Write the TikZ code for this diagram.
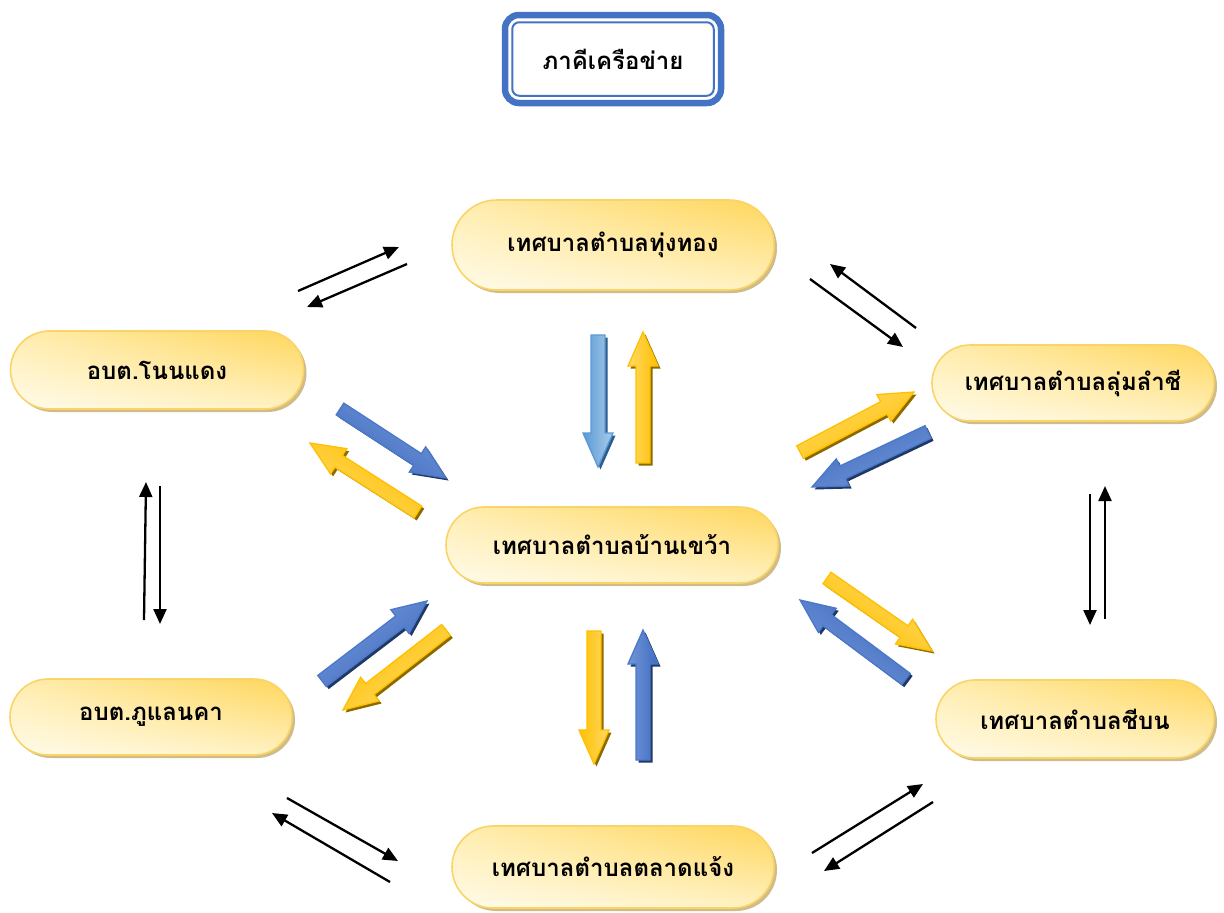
\documentclass[tikz,border=0pt]{standalone}
\usepackage{fontspec}
\newfontfamily\thai[Script=Thai]{Loma}
\usetikzlibrary{shapes.misc,shadows,shadings,calc,arrows.meta}
\definecolor{tblue}{HTML}{4472C4}
\definecolor{nbord}{HTML}{FAD466}
\definecolor{nshadow}{HTML}{D0BC88}
\definecolor{nUR}{HTML}{FFD65A}
\definecolor{nUL}{HTML}{FFEDB0}
\definecolor{nLL}{HTML}{FFFBEA}
\definecolor{nLR}{HTML}{FFF1C0}
\definecolor{bD}{HTML}{3F6CC0}
\definecolor{bL}{HTML}{7396D8}
\definecolor{bB}{HTML}{4A78CA}
\definecolor{bS}{HTML}{203864}
\definecolor{lbD}{HTML}{5B9BD5}
\definecolor{lbL}{HTML}{A9CBEA}
\definecolor{lbB}{HTML}{5B9BD5}
\definecolor{lbS}{HTML}{2E5C8A}
\definecolor{yD}{HTML}{FFC000}
\definecolor{yL}{HTML}{FFD966}
\definecolor{yB}{HTML}{FFC000}
\definecolor{yS}{HTML}{8C6A00}
\newcommand{\blkpath}[2]{($(#1)!7pt!90:(#2)$) -- ($(bh)!7pt!90:(#2)$) -- ($(bh)!15pt!90:(#2)$) -- (#2) -- ($(bh)!15pt!-90:(#2)$) -- ($(bh)!7pt!-90:(#2)$) -- ($(#1)!7pt!-90:(#2)$) -- cycle}
\newcommand{\blkarrow}[3]{%
  \pgfmathanglebetweenpoints{\pgfpointanchor{#1}{center}}{\pgfpointanchor{#2}{center}}%
  \let\blkang\pgfmathresult
  \coordinate (bh) at ($(#2)!34pt!(#1)$);
  \fill[#3S, transform canvas={shift={(2.5pt,-2.5pt)}}] \blkpath{#1}{#2};
  \path[draw=#3B, line width=1.3pt, line join=miter, top color=#3L, bottom color=#3D, shading angle=\blkang] \blkpath{#1}{#2};
}
\begin{document}
\begin{tikzpicture}[x=1pt,y=-1pt,
  org/.style={rounded rectangle, draw=nbord, line width=1.6pt,
    upper right=nUR, upper left=nUL, lower left=nLL, lower right=nLR,
    general shadow={shadow xshift=3pt, shadow yshift=-3pt, fill=nshadow},
    font=\thai\bfseries\fontsize{24}{28}\selectfont, inner sep=0pt},
  thinarr/.style={line width=2.3pt, -{Triangle[length=15pt,width=13pt]}},
  titlebox/.style={draw=tblue, line width=6.5pt, rounded corners=14pt, fill=white,
    minimum width=216pt, minimum height=88pt, inner sep=0pt,
    font=\thai\bfseries\fontsize{24}{28}\selectfont}
]
\useasboundingbox[fill=white] (0,0) rectangle (1224,913);

% title
\node[titlebox] (title) at (613,59) {ภาคีเครือข่าย};
\draw[tblue, line width=2pt, rounded corners=7pt]
  ($(title.north west)+(10.5,10.5)$) rectangle ($(title.south east)+(-10.5,-10.5)$);

% organisation nodes
\node[org, minimum width=322pt, minimum height=90pt] (tt) at (613,245) {เทศบาลตำบลทุ่งทอง};
\node[org, minimum width=293pt, minimum height=78pt] (nd) at (157,370) {อบต.โนนแดง};
\node[org, minimum width=282pt, minimum height=76pt] (ll) at (1073,383) {เทศบาลตำบลลุ่มลำชี};
\node[org, minimum width=332pt, minimum height=76pt] (bk) at (612,545) {เทศบาลตำบลบ้านเขว้า};
\node[org, minimum width=282pt, minimum height=76pt] (pl) at (151,717) {อบต.ภูแลนคา};
\node[org, minimum width=278pt, minimum height=78pt] (cb) at (1075,719) {เทศบาลตำบลชีบน};
\node[org, minimum width=322pt, minimum height=82pt] (tl) at (613,867) {เทศบาลตำบลตลาดแจ้ง};

% thin arrow end points
\coordinate (a1s) at (298,291);  \coordinate (a1e) at (399,247);
\coordinate (a2s) at (407,264);  \coordinate (a2e) at (307,307);
\coordinate (a3s) at (916,328);  \coordinate (a3e) at (830,264);
\coordinate (a4s) at (810,279);  \coordinate (a4e) at (903,347);
\coordinate (a5s) at (144,620);  \coordinate (a5e) at (146,482);
\coordinate (a6s) at (160,486);  \coordinate (a6e) at (160,624);
\coordinate (a7s) at (1090,494); \coordinate (a7e) at (1090,625);
\coordinate (a8s) at (1105,619); \coordinate (a8e) at (1105,486);
\coordinate (a9s) at (287,798);  \coordinate (a9e) at (398,861);
\coordinate (a10s) at (390,882); \coordinate (a10e) at (272,813);
\coordinate (a11s) at (812,853); \coordinate (a11e) at (923,784);
\coordinate (a12s) at (933,802); \coordinate (a12e) at (824,871);
\foreach \i in {1,...,12} \draw[thinarr] (a\i s) -- (a\i e);

% block arrow end points
\coordinate (b1s) at (598,335);  \coordinate (b1e) at (598,467);
\coordinate (b2s) at (643,463);  \coordinate (b2e) at (643,332);
\coordinate (b3s) at (340,409);  \coordinate (b3e) at (446,478);
\coordinate (b4s) at (418,512);  \coordinate (b4e) at (310,443);
\coordinate (b5s) at (800,452);  \coordinate (b5e) at (914,392);
\coordinate (b6s) at (928,432);  \coordinate (b6e) at (812,487);
\coordinate (b7s) at (322,681);  \coordinate (b7e) at (427,601);
\coordinate (b8s) at (446,630);  \coordinate (b8e) at (343,710);
\coordinate (b9s) at (827,578);  \coordinate (b9e) at (932,651);
\coordinate (b10s) at (906,679); \coordinate (b10e) at (800,600);
\coordinate (b11s) at (594,631); \coordinate (b11e) at (594,764);
\coordinate (b12s) at (643,760); \coordinate (b12e) at (643,630);

\blkarrow{b1s}{b1e}{lb}
\blkarrow{b2s}{b2e}{y}
\blkarrow{b3s}{b3e}{b}
\blkarrow{b4s}{b4e}{y}
\blkarrow{b5s}{b5e}{y}
\blkarrow{b6s}{b6e}{b}
\blkarrow{b7s}{b7e}{b}
\blkarrow{b8s}{b8e}{y}
\blkarrow{b9s}{b9e}{y}
\blkarrow{b10s}{b10e}{b}
\blkarrow{b11s}{b11e}{y}
\blkarrow{b12s}{b12e}{b}
\end{tikzpicture}
\end{document}
